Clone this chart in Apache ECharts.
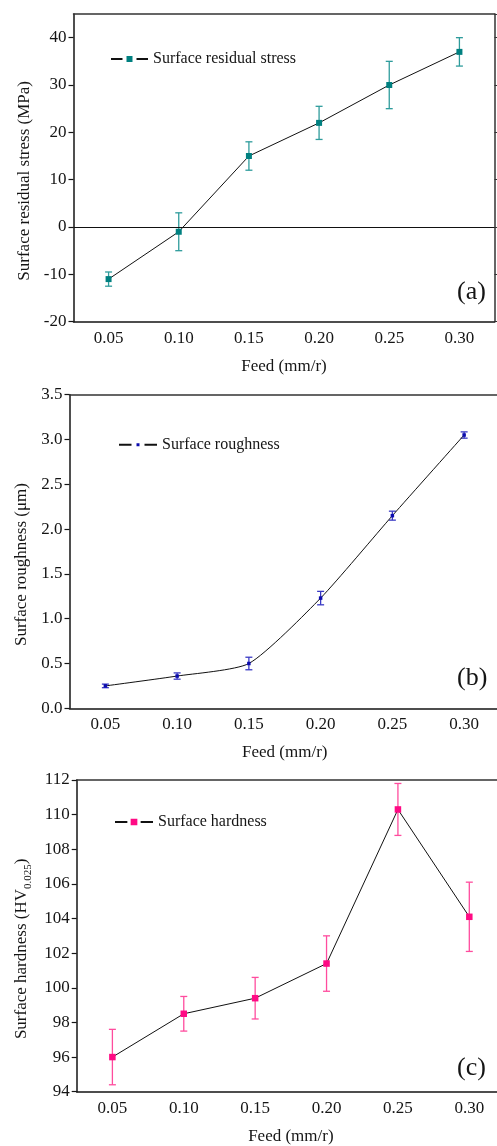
<!DOCTYPE html>
<html><head><meta charset="utf-8">
<script src="https://cdn.jsdelivr.net/npm/echarts@6/dist/echarts.min.js"></script>
<style>html,body{margin:0;padding:0;background:#fff}#c{width:497px;height:1146px}</style>
</head><body><div id="c"></div>
<script>
const feed = ['0.05', '0.10', '0.15', '0.20', '0.25', '0.30'];
const stress = [-11, -1, 15, 22, 30, 37];
const stressErr = [1.5, 4, 3, 3.5, 5, 3];
const roughness = [0.25, 0.36, 0.50, 1.23, 2.15, 3.05];
const roughnessErr = [0.02, 0.035, 0.07, 0.075, 0.05, 0.035];
const hardness = [96.0, 98.5, 99.4, 101.4, 110.3, 104.1];
const hardnessErr = [1.6, 1.0, 1.2, 1.6, 1.5, 2.0];
const stressTicks = [-20, -10, 0, 10, 20, 30, 40];
const roughTicks = [0.0, 0.5, 1.0, 1.5, 2.0, 2.5, 3.0, 3.5];
const hardTicks = [94, 96, 98, 100, 102, 104, 106, 108, 110, 112];

const FF = '"Liberation Serif", "Times New Roman", serif';
const INK = '#151515';
const C_A = '#008080', C_A_ERR = '#2f9c9c';
const C_B = '#0c0cae', C_B_ERR = '#3a3ac4';
const C_C = '#ff0a84', C_C_ERR = '#ff4c9e';

const chart = echarts.init(document.getElementById('c'), null, {renderer: 'canvas'});

function errRender(color, capW) {
  return function (params, api) {
    const i = api.value(0), v = api.value(1), e = api.value(2);
    const t = api.coord([i, v + e]);
    const b = api.coord([i, v - e]);
    const x = t[0];
    const st = {stroke: color, lineWidth: 1.3};
    return {type: 'group', children: [
      {type: 'line', shape: {x1: x, y1: t[1], x2: x, y2: b[1]}, style: st},
      {type: 'line', shape: {x1: x - capW / 2, y1: t[1], x2: x + capW / 2, y2: t[1]}, style: st},
      {type: 'line', shape: {x1: x - capW / 2, y1: b[1], x2: x + capW / 2, y2: b[1]}, style: st}
    ]};
  };
}

function xMain(gi) {
  return {
    type: 'category', gridIndex: gi, data: feed, boundaryGap: true, position: 'bottom',
    axisLine: {onZero: false, lineStyle: {color: INK, width: 1.5}},
    axisTick: {alignWithLabel: true, inside: true, length: 5, interval: 0, lineStyle: {color: INK, width: 1.2}},
    axisLabel: {fontFamily: FF, fontSize: 17, color: INK, margin: 8, interval: 0},
    splitLine: {show: false},
    name: 'Feed (mm/r)', nameLocation: 'middle', nameGap: 36,
    nameTextStyle: {fontFamily: FF, fontSize: 17, color: INK}
  };
}
function xTop(gi) {
  return {
    type: 'category', gridIndex: gi, data: feed, boundaryGap: true, position: 'top',
    axisLine: {onZero: false, lineStyle: {color: '#333', width: 1.5}},
    axisTick: {alignWithLabel: true, inside: false, length: 3, interval: 0, lineStyle: {color: '#333', width: 1}},
    axisLabel: {show: false}, splitLine: {show: false}
  };
}
function yMain(gi, ticks, max, name, gap, extra) {
  const o = {
    type: 'value', gridIndex: gi, position: 'left',
    min: ticks[0], max: max, interval: ticks[1] - ticks[0],
    axisLine: {show: true, onZero: false, lineStyle: {color: INK, width: 1.5}},
    axisTick: {show: true, inside: false, length: 5, lineStyle: {color: INK, width: 1.2}},
    axisLabel: {fontFamily: FF, fontSize: 17, color: INK, margin: 7, showMaxLabel: max === ticks[ticks.length - 1]},
    splitLine: {show: false},
    name: name, nameLocation: 'middle', nameRotate: 90, nameGap: gap,
    nameTextStyle: {fontFamily: FF, fontSize: 17, color: INK, padding: [0, 26, 0, 0]}
  };
  return Object.assign(o, extra || {});
}
function yRight(gi, ticks, max) {
  return {
    type: 'value', gridIndex: gi, position: 'right',
    min: ticks[0], max: max, interval: ticks[1] - ticks[0],
    axisLine: {show: true, onZero: false, lineStyle: {color: '#333', width: 1.5}},
    axisTick: {show: true, inside: false, length: 3, lineStyle: {color: '#333', width: 1}},
    axisLabel: {show: false}, splitLine: {show: false}
  };
}

const legendBase = {
  padding: 0, orient: 'horizontal', selectedMode: false,
  textStyle: {fontFamily: FF, fontSize: 16, color: INK}
};

const option = {
  animation: false,
  backgroundColor: '#fff',
  grid: [
    {left: 73.5, top: 14, right: 2.5, height: 307.7, outerBoundsMode: 'none', containLabel: false},
    {left: 69.5, top: 394.7, right: -3, height: 313.6, outerBoundsMode: 'none', containLabel: false},
    {left: 76.7, top: 780, right: -8, height: 311.7, outerBoundsMode: 'none', containLabel: false}
  ],
  xAxis: [xMain(0), xMain(1), xMain(2), xTop(0), xTop(1), xTop(2)],
  yAxis: [
    yMain(0, stressTicks, 45, 'Surface residual stress (MPa)', 34),
    yMain(1, roughTicks, 3.5, 'Surface roughness (μm)', 33, {
      axisLabel: {fontFamily: FF, fontSize: 17, color: INK, margin: 7, formatter: v => v.toFixed(1)}
    }),
    yMain(2, hardTicks, 112, '{m|Surface hardness (HV}{s|0.025}{m|)}', 35, {
      nameTextStyle: {fontFamily: FF, fontSize: 17, color: INK, padding: [0, 26, 0, 0],
        rich: {
          m: {fontFamily: FF, fontSize: 17, color: INK, lineHeight: 24, verticalAlign: 'middle'},
          s: {fontFamily: FF, fontSize: 11, color: INK, lineHeight: 24, verticalAlign: 'bottom'}
        }}
    }),
    yRight(0, stressTicks, 45), yRight(1, roughTicks, 3.5), yRight(2, hardTicks, 112)
  ],
  legend: [
    Object.assign({}, legendBase, {data: ['Surface residual stress'], left: 110, top: 51, itemWidth: 37, itemHeight: 12.5,
      itemStyle: {borderColor: '#fff', borderWidth: 4}}),
    Object.assign({}, legendBase, {data: ['Surface roughness'], left: 118, top: 436.7, itemWidth: 38, itemHeight: 10,
      itemStyle: {borderColor: '#fff', borderWidth: 5}}),
    Object.assign({}, legendBase, {data: ['Surface hardness'], left: 114, top: 814, itemWidth: 38, itemHeight: 12.5,
      itemStyle: {borderColor: '#fff', borderWidth: 3.3}})
  ],
  series: [
    {type: 'custom', xAxisIndex: 0, yAxisIndex: 0, z: 2, silent: true,
      renderItem: errRender(C_A_ERR, 7), encode: {x: 0, y: 1},
      data: feed.map((f, i) => [i, stress[i], stressErr[i]])},
    {type: 'line', name: 'Surface residual stress', xAxisIndex: 0, yAxisIndex: 0, z: 3,
      data: stress, symbol: 'rect', symbolSize: 6,
      itemStyle: {color: C_A}, lineStyle: {color: '#111', width: 1},
      markLine: {silent: true, symbol: 'none', label: {show: false},
        lineStyle: {color: '#111', width: 1.2, type: 'solid'}, data: [{yAxis: 0}]}},
    {type: 'custom', xAxisIndex: 1, yAxisIndex: 1, z: 2, silent: true,
      renderItem: errRender(C_B_ERR, 7), encode: {x: 0, y: 1},
      data: feed.map((f, i) => [i, roughness[i], roughnessErr[i]])},
    {type: 'line', name: 'Surface roughness', xAxisIndex: 1, yAxisIndex: 1, z: 3,
      data: roughness, symbol: 'rect', symbolSize: 3.5, smooth: 0.2,
      itemStyle: {color: C_B}, lineStyle: {color: '#111', width: 1}},
    {type: 'custom', xAxisIndex: 2, yAxisIndex: 2, z: 2, silent: true,
      renderItem: errRender(C_C_ERR, 7), encode: {x: 0, y: 1},
      data: feed.map((f, i) => [i, hardness[i], hardnessErr[i]])},
    {type: 'line', name: 'Surface hardness', xAxisIndex: 2, yAxisIndex: 2, z: 3,
      data: hardness, symbol: 'rect', symbolSize: 6.5,
      itemStyle: {color: C_C}, lineStyle: {color: '#111', width: 1}}
  ],
  graphic: [
    {type: 'text', left: 457, top: 279, style: {text: '(a)', font: '26px ' + FF, fill: INK}},
    {type: 'text', left: 457, top: 665, style: {text: '(b)', font: '26px ' + FF, fill: INK}},
    {type: 'text', left: 457, top: 1055, style: {text: '(c)', font: '26px ' + FF, fill: INK}}
  ]
};
chart.setOption(option);
</script>
</body></html>
